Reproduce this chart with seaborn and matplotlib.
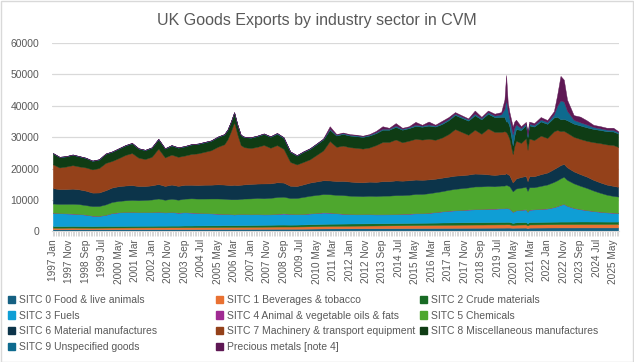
import pandas as pd
import matplotlib
matplotlib.use("Agg")
import matplotlib.pyplot as plt
import seaborn as sns
from matplotlib.patches import Patch, Rectangle

# sample months (monthly series, read every ~4 months + around spikes)
sample_months = """
1997-01 1997-05 1997-09 1998-01 1998-05 1998-09 1999-01 1999-05 1999-09
2000-01 2000-05 2000-09 2001-01 2001-05 2001-09 2002-01 2002-05 2002-09
2003-01 2003-05 2003-09 2004-01 2004-05 2004-09 2005-01 2005-05 2005-09
2005-11 2006-01 2006-03 2006-05 2006-07 2006-09
2007-01 2007-05 2007-09 2008-01 2008-05 2008-09 2009-01 2009-05 2009-09 2010-01 2010-05 2010-09
2011-01 2011-05 2011-09 2012-01 2012-05 2012-09 2013-01 2013-05 2013-09 2014-01 2014-05 2014-09
2015-01 2015-05 2015-09
2016-01 2016-05 2016-09 2017-01 2017-05 2017-09 2018-01 2018-05 2018-09 2019-01 2019-05 2019-09
2019-11 2019-12 2020-01 2020-02 2020-04 2020-05 2020-06 2020-09 2020-12 2021-01 2021-02 2021-05
2021-09 2022-01 2022-05 2022-07 2022-09 2022-11 2023-01 2023-05 2023-09 2024-01 2024-05 2024-09
2025-01 2025-05 2025-08
""".split()

food = [700, 690, 700, 710, 700, 700, 690, 700, 710,
        720, 720, 730, 730, 740, 740, 750, 750, 750, 760, 760, 770, 770, 780, 780, 790, 790, 800,
        800, 810, 810, 810, 820, 820,
        830, 840, 850, 860, 870, 880, 880, 890, 900, 920, 940, 960,
        980, 990, 1000, 1010, 1020, 1030, 1040, 1050, 1060, 1070, 1080, 1090, 1100, 1110, 1120,
        1130, 1140, 1150, 1160, 1170, 1180, 1190, 1200, 1210, 1220, 1230, 1240,
        1240, 1250, 1250, 1250, 1200, 1220, 1230, 1240, 1250, 1100, 1240, 1250,
        1260, 1270, 1280, 1280, 1290, 1290, 1290, 1290, 1300, 1300, 1300, 1300,
        1300, 1300, 1300]
beverages = [520, 510, 520, 530, 520, 520, 510, 520, 530,
             540, 550, 550, 560, 560, 570, 570, 580, 580, 590, 590, 600, 600, 610, 610, 620, 620, 630,
             630, 640, 640, 640, 650, 650,
             660, 670, 680, 690, 700, 700, 700, 710, 720, 740, 760, 780,
             800, 810, 820, 830, 840, 850, 860, 870, 880, 890, 900, 910, 920, 930, 940,
             950, 960, 970, 980, 990, 1000, 1000, 1010, 1010, 1020, 1020, 1030,
             1030, 1040, 1040, 1030, 850, 900, 950, 980, 1000, 850, 1000, 1000,
             1010, 1030, 1040, 1050, 1050, 1050, 1050, 1060, 1060, 1070, 1070, 1080,
             1080, 1090, 1100]
crude = [530, 530, 520, 530, 530, 520, 520, 530, 530,
         500, 500, 500, 510, 510, 510, 510, 520, 520, 520, 520, 530, 530, 530, 540, 540, 540, 550,
         550, 550, 550, 560, 560, 560,
         570, 580, 590, 600, 620, 620, 600, 600, 620, 650, 670, 690,
         700, 700, 700, 700, 700, 700, 700, 700, 700, 700, 710, 710, 710, 720, 720,
         730, 730, 740, 740, 750, 750, 760, 760, 770, 770, 780, 780,
         780, 780, 780, 770, 700, 720, 740, 760, 770, 700, 770, 780,
         790, 800, 810, 810, 820, 820, 820, 820, 820, 810, 800, 790,
         780, 770, 760]
fuels = [4200, 4100, 4000, 3900, 3800, 3600, 3300, 3200, 3500,
         4100, 4300, 4400, 4400, 4300, 4300, 4300, 4400, 4200, 4300, 4100, 4200, 4100, 4000, 3900, 3800, 3700, 3600,
         3600, 3500, 3400, 3500, 3500, 3500,
         3400, 3400, 3300, 3300, 3400, 3500, 3400, 3300, 3300, 3400, 3500, 3600,
         3500, 3300, 3100, 3000, 2900, 2900, 2900, 2800, 2800, 2800, 2800, 2900, 2900, 3000, 3000,
         3100, 3300, 3500, 3700, 3800, 3900, 4000, 4100, 4100, 4200, 4200, 4300,
         4300, 4400, 4300, 4200, 3500, 3600, 3800, 3900, 4000, 3600, 3900, 4000,
         4100, 4200, 4600, 4900, 5300, 5600, 5000, 4300, 3900, 3600, 3300, 3100,
         2900, 2800, 2700]
oils = [60, 60, 60, 60, 60, 60, 60, 60, 60,
        60, 60, 60, 60, 60, 60, 60, 60, 60, 60, 60, 60, 60, 60, 60, 60, 60, 60,
        60, 60, 60, 60, 60, 60,
        70, 70, 70, 70, 70, 70, 70, 70, 70, 70, 70, 70,
        70, 70, 70, 70, 70, 70, 70, 70, 70, 70, 70, 70, 70, 70, 70,
        70, 70, 70, 70, 70, 70, 70, 70, 70, 70, 70, 70,
        70, 70, 70, 70, 70, 70, 70, 70, 70, 70, 70, 70,
        70, 70, 70, 70, 70, 70, 70, 70, 70, 70, 70, 70,
        70, 70, 70]
chemicals = [2900, 2900, 3000, 3100, 3100, 3000, 3000, 3100, 3300,
             3500, 3600, 3700, 3800, 3800, 3900, 4000, 4200, 4000, 4200, 4100, 4300, 4500, 4500, 4600, 4700, 4800, 4800,
             4700, 4700, 4800, 4700, 4800, 4900,
             5000, 5100, 5100, 5200, 5300, 5300, 5000, 5100, 5400, 5600, 5700, 5800,
             5800, 5800, 5900, 5800, 5800, 5700, 5800, 5800, 5900, 5900, 6000, 5900, 6000, 6100, 6100,
             6200, 6300, 6400, 6600, 6800, 6900, 7000, 7200, 7200, 7200, 7100, 7200,
             7200, 7300, 7200, 7100, 6500, 6700, 6900, 7000, 7100, 6600, 7100, 7000,
             7300, 7600, 8000, 8200, 8400, 8600, 8200, 7800, 7400, 7000, 6500, 6000,
             5600, 5300, 5200]
material = [4900, 4700, 4700, 4800, 4700, 4600, 4300, 4300, 4500,
            4600, 4700, 4700, 4700, 4500, 4400, 4500, 4600, 4400, 4500, 4400, 4400, 4300, 4300, 4400, 4400, 4500, 4500,
            4500, 4500, 4600, 4500, 4500, 4500,
            4600, 4600, 4700, 4600, 4700, 4500, 3900, 3800, 4000, 4200, 4300, 4400,
            4400, 4400, 4500, 4500, 4400, 4400, 4500, 4500, 4600, 4600, 4700, 4600, 4600, 4600, 4500,
            4400, 4300, 4300, 4200, 4200, 4100, 4100, 4100, 4000, 3700, 3600, 3600,
            3600, 3700, 3600, 3500, 2800, 3000, 3200, 3400, 3500, 3100, 3500, 3500,
            3700, 3800, 4100, 4200, 4200, 4100, 4000, 3800, 3700, 3600, 3400, 3300,
            3200, 3200, 3100]
machinery = [7590, 6890, 7190, 7490, 7290, 7390, 7390, 7790, 8690,
             8460, 8950, 9740, 10220, 9010, 8600, 9090, 11270, 9070, 9550, 9250, 9320, 9820, 10100, 10480, 10960, 11960, 12830,
             14530, 17110, 19890, 16080, 12660, 11860,
             11430, 11700, 12260, 11330, 11840, 10730, 7600, 6880, 7140, 7420, 8460, 9500,
             12550, 10880, 11260, 10940, 10920, 10750, 10880, 11710, 12490, 12470, 13040, 12220, 12600, 12970, 12810,
             12920, 12400, 12770, 13550, 14820, 13800, 12680, 13960, 12740, 14620, 13700, 13480,
             13680, 13160, 12560, 11580, 9000, 11000, 12000, 10850, 12000, 10000, 12000, 11500,
             12300, 11000, 12000, 11800, 10800, 10500, 11000, 11000, 11200, 11400, 12000, 12500,
             12800, 13000, 12700]
misc = [3500, 3300, 3200, 3300, 3200, 3000, 2700, 2700, 2900,
        2900, 3000, 3000, 3100, 2900, 2800, 2900, 3000, 2800, 2900, 2900, 2900, 3000, 3000, 3000, 3000, 3100, 3100,
        3000, 3000, 3100, 3000, 3100, 3200,
        3300, 3400, 3500, 3500, 3600, 3500, 3200, 2800, 3200, 3300, 3400, 3500,
        3600, 3600, 3700, 3700, 3700, 3700, 3800, 3800, 3900, 3900, 4000, 4000, 4000, 4100, 4100,
        4200, 4200, 4300, 4400, 4500, 4500, 4500, 4600, 4600, 4700, 4700, 4800,
        4600, 3300, 4200, 4000, 2800, 3300, 3700, 4100, 4200, 4000, 4200, 4300,
        4500, 4500, 4400, 4200, 3800, 3800, 4000, 4200, 4300, 4300, 4200, 4200,
        4200, 4300, 4300]
unspecified = [100, 100, 100, 100, 100, 100, 100, 100, 100,
               120, 120, 120, 120, 120, 120, 120, 120, 120, 120, 120, 120, 120, 120, 130, 130, 130, 130,
               130, 130, 150, 150, 150, 150,
               150, 150, 160, 160, 200, 200, 150, 150, 150, 200, 200, 200,
               300, 250, 250, 250, 250, 250, 250, 300, 300, 300, 400, 300, 300, 400, 300,
               400, 300, 400, 400, 400, 400, 400, 500, 400, 500, 500, 800,
               2500, 6900, 3500, 2500, 3500, 2500, 1500, 600, 500, 600, 500, 500,
               600, 600, 1000, 3500, 6000, 5500, 3000, 1200, 1000, 900, 600, 500,
               500, 500, 400]
precious = [0, 0, 0, 0, 0, 0, 0, 0, 0,
            0, 0, 0, 0, 0, 0, 0, 0, 0, 0, 0, 0, 0, 0, 0, 0, 0, 0,
            0, 0, 0, 0, 0, 0,
            0, 0, 0, 0, 100, 0, 0, 0, 0, 0, 0, 100,
            800, 200, 200, 200, 200, 150, 200, 400, 800, 300, 800, 300, 300, 900, 300,
            900, 300, 600, 600, 500, 400, 300, 1000, 400, 500, 600, 700,
            3000, 7900, 2500, 2000, 2500, 2000, 1500, 600, 500, 800, 700, 600,
            800, 600, 1000, 3500, 7800, 7000, 3500, 1500, 1800, 1300, 700, 700,
            600, 700, 300]

labels = ["SITC 0 Food & live animals", "SITC 1 Beverages & tobacco", "SITC 2 Crude materials",
          "SITC 3 Fuels", "SITC 4 Animal & vegetable oils & fats", "SITC 5 Chemicals",
          "SITC 6 Material manufactures", "SITC 7 Machinery & transport equipment",
          "SITC 8 Miscellaneous manufactures", "SITC 9 Unspecified goods", "Precious metals [note 4]"]
colors = ["#156082", "#E97132", "#196B24", "#0F9ED5", "#A02B93", "#4EA72E",
          "#0C344A", "#94411A", "#0F3C14", "#0E6A8E", "#5E1854"]

sns.set_style("white")
plt.rcParams["font.family"] = ["Liberation Sans", "DejaVu Sans"]
grey = "#595959"

periods = pd.PeriodIndex(sample_months, freq="M")
x = (periods.year - 1997) * 12 + periods.month - 1
all_months = pd.period_range("1997-01", "2025-08", freq="M")

W, H = 634, 362
fig = plt.figure(figsize=(W / 100, H / 100), dpi=100)
ax = fig.add_axes([52 / W, 1 - 231.5 / H, 567 / W, 188.5 / H])

series = [food, beverages, crude, fuels, oils, chemicals, material, machinery, misc, unspecified, precious]
polys = ax.stackplot(x, *series, colors=colors, labels=labels, linewidth=0.3)
for p, c in zip(polys, colors):
    p.set_edgecolor(c)

ax.set_xlim(-0.5, len(all_months) - 0.5)
ax.set_ylim(0, 60000)
ax.set_yticks(range(0, 60001, 10000))
ax.grid(axis="y", color="#D9D9D9", linewidth=0.9)
ax.set_axisbelow(True)
for s in ["top", "right", "left"]:
    ax.spines[s].set_visible(False)
ax.spines["bottom"].set_color("#D9D9D9")

tick_pos = list(range(0, len(all_months), 10))
ax.set_xticks(tick_pos)
ax.set_xticklabels([all_months[i].strftime("%Y %b") for i in tick_pos], rotation=90, fontsize=7.3, color=grey)
ax.set_xticks(range(len(all_months)), minor=True)
ax.tick_params(axis="x", which="both", length=3.5, width=0.6, color="#D0D0D0", pad=2, bottom=True)
ax.tick_params(axis="y", length=0, pad=9, labelsize=7.5, labelcolor=grey)

fig.text(0.5, 1 - 20 / H, "UK Goods Exports by industry sector in CVM", ha="center", va="center",
         fontsize=11.5, color=grey)

handles = [Patch(facecolor=c, edgecolor=c) for c in colors]
col_x = [8, 216, 420]
for j in range(3):
    idx = list(range(j, len(labels), 3))
    fig.legend([handles[i] for i in idx], [labels[i] for i in idx], loc="upper left",
               bbox_to_anchor=(col_x[j] / W, 1 - 295 / H), frameon=False, fontsize=7.5,
               labelcolor=grey, handlelength=0.7, handleheight=0.7, handletextpad=0.4,
               labelspacing=0.55, borderpad=0, borderaxespad=0)

fig.add_artist(Rectangle((0.5 / W, 0.5 / H), 1 - 1.5 / W, 1 - 1.5 / H, transform=fig.transFigure,
                         fill=False, edgecolor="#D9D9D9", linewidth=1))

fig.savefig("out.png", dpi=100)
